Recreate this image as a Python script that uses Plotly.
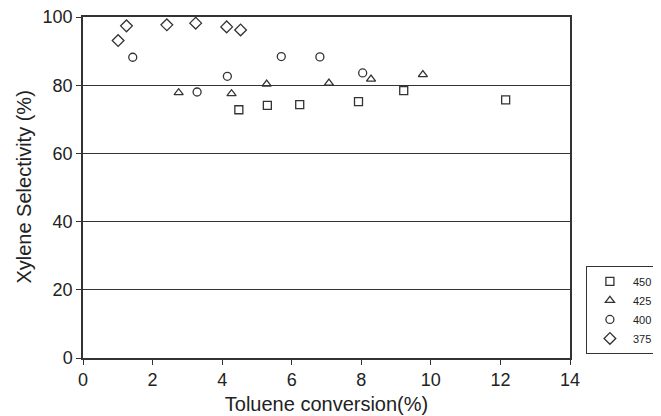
import plotly.graph_objects as go

series_names = ["450", "425", "400", "375"]

x_450 = [4.48, 5.30, 6.23, 7.92, 9.22, 12.15]
y_450 = [72.8, 74.1, 74.3, 75.2, 78.4, 75.7]

x_425 = [2.75, 4.27, 5.28, 7.07, 8.28, 9.77]
y_425 = [77.8, 77.5, 80.3, 80.6, 81.8, 83.1]

x_400 = [1.43, 3.28, 4.15, 5.70, 6.81, 8.04]
y_400 = [88.2, 78.0, 82.6, 88.4, 88.3, 83.6]

x_375 = [1.01, 1.25, 2.41, 3.24, 4.13, 4.53]
y_375 = [93.1, 97.4, 97.7, 98.2, 97.1, 96.2]

x_ticks = [0, 2, 4, 6, 8, 10, 12, 14]
y_ticks = [0, 20, 40, 60, 80, 100]

symbols = ["square-open", "triangle-up-open", "circle-open", "diamond-open"]
sizes = [8, 8, 8, 9]
xs = [x_450, x_425, x_400, x_375]
ys = [y_450, y_425, y_400, y_375]

fig = go.Figure()
for name, sx, sy, sym, sz in zip(series_names, xs, ys, symbols, sizes):
    fig.add_trace(go.Scatter(
        x=sx, y=sy, mode="markers", name=name,
        marker=dict(symbol=sym, size=sz, color="#333333", line=dict(width=1.3, color="#333333")),
    ))

# The page body adds an 8px offset, so the figure is sized 8px smaller.
font_family = "Liberation Sans, Arial, sans-serif"
fig.update_layout(
    width=653, height=408,
    margin=dict(l=75, r=91, t=9, b=58),
    paper_bgcolor="white", plot_bgcolor="white",
    font=dict(family=font_family, color="#222222"),
    showlegend=True,
    legend=dict(
        xref="container", yref="container",
        x=0.885, y=0.26, xanchor="left", yanchor="middle",
        bordercolor="#333333", borderwidth=1,
        font=dict(size=11, family=font_family, color="#222222"),
        itemwidth=36, tracegroupgap=0,
    ),
    xaxis=dict(
        range=[0, 14], tickvals=x_ticks, ticktext=[str(v) for v in x_ticks],
        showgrid=False, zeroline=False, automargin=False,
        showline=True, linecolor="#333333", linewidth=1.5, mirror=True,
        ticks="outside", ticklen=5, tickcolor="#333333",
        tickfont=dict(size=18), ticklabeloverflow="allow",
        title=dict(text="Toluene conversion(%)", font=dict(size=20), standoff=8),
    ),
    yaxis=dict(
        range=[0, 100], tickvals=y_ticks, ticktext=[str(v) for v in y_ticks],
        showgrid=True, gridcolor="#333333", gridwidth=1,
        zeroline=False, automargin=False,
        showline=True, linecolor="#333333", linewidth=1.5, mirror=True,
        ticks="outside", ticklen=5, tickcolor="#333333",
        tickfont=dict(size=18), ticklabeloverflow="allow",
    ),
    annotations=[dict(
        text="Xylene Selectivity (%)", textangle=-90,
        xref="paper", yref="paper", x=-0.123, y=0.5,
        xanchor="center", yanchor="middle", showarrow=False,
        font=dict(size=20, family=font_family, color="#222222"),
    )],
)

fig.write_html("out.html")
